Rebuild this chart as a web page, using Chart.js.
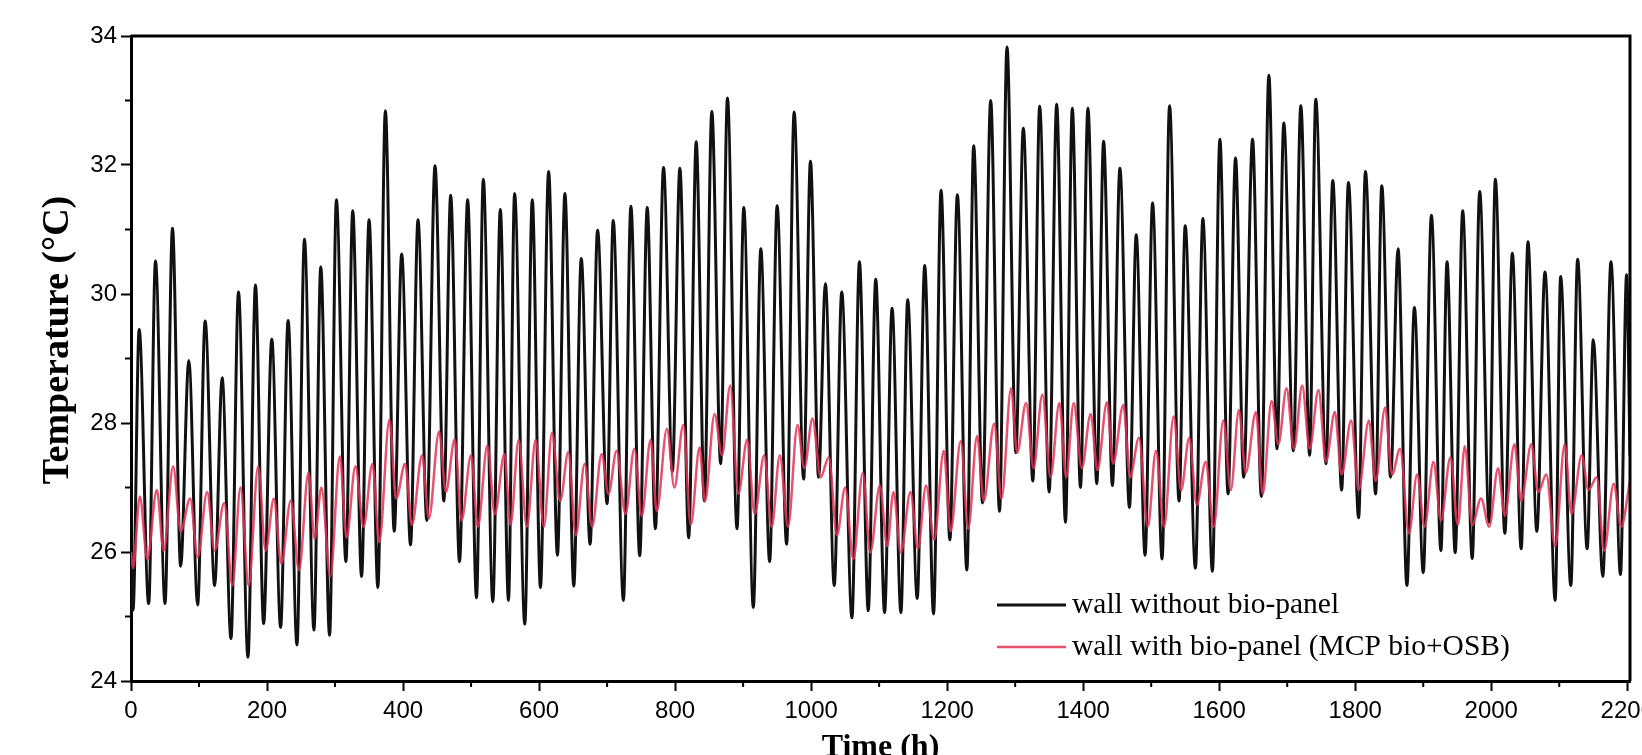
<!DOCTYPE html>
<html lang="en">
<head>
<meta charset="UTF-8" />
<title>Wall temperature with and without bio-panel</title>
<script src="https://cdn.jsdelivr.net/npm/chart.js"></script>
<style>
  html, body { margin: 0; padding: 0; background: #fff; overflow: hidden; }
  #wrap { width: 1642px; height: 755px; overflow: hidden; }
</style>
</head>
<body>
<div id="wrap"><canvas id="tempChart" width="1642" height="775"></canvas></div>
<script>
// turning points (hour, temperature)
const blackHours = [0,3,12,26,36,50,61,73,85,98,109,123,134,147,158,172,183,195,207,220,
  231,244,255,269,279,292,302,316,326,339,350,363,374,387,398,411,422,435,447,460,
  470,483,495,508,518,532,543,555,564,579,590,602,614,627,638,651,662,675,686,700,
  709,724,735,748,759,771,783,796,807,820,831,843,854,867,877,891,901,915,926,939,
  950,964,975,989,999,1011,1021,1034,1045,1060,1071,1084,1095,1108,1119,1132,1142,1156,1167,1180,
  1191,1204,1215,1229,1239,1252,1264,1277,1288,1301,1312,1326,1336,1350,1361,1374,1384,1396,1407,1420,
  1430,1443,1454,1468,1478,1491,1502,1516,1527,1541,1550,1565,1576,1590,1601,1613,1624,1636,1649,1662,
  1673,1685,1695,1709,1720,1733,1742,1757,1767,1780,1790,1805,1815,1830,1839,1852,1863,1876,1887,1900,
  1912,1926,1935,1947,1958,1972,1983,1997,2006,2020,2031,2044,2054,2067,2079,2094,2102,2117,2127,2141,
  2150,2164,2176,2190,2199,2204];
const blackTemp = [26.0,25.1,29.45,25.2,30.51,25.2,31.02,25.78,28.97,25.18,
  29.58,25.48,28.7,24.66,30.03,24.37,30.14,24.89,29.3,24.83,
  29.59,24.56,30.85,24.79,30.42,24.71,31.46,25.85,31.29,25.62,
  31.15,25.45,32.84,26.32,30.62,26.11,31.15,26.49,31.99,26.79,
  31.53,25.85,31.46,25.29,31.78,25.23,31.31,25.25,31.56,24.88,
  31.46,25.45,31.9,25.95,31.56,25.47,30.55,26.12,30.99,26.75,
  31.14,25.25,31.36,25.94,31.34,26.36,31.96,27.25,31.95,26.22,
  32.36,26.79,32.83,27.37,33.04,26.36,31.34,25.14,30.7,25.85,
  31.37,26.12,32.82,27.13,32.06,27.16,30.16,25.48,30.03,24.98,
  30.5,25.09,30.23,25.06,29.78,25.06,29.91,25.28,30.44,25.04,
  31.61,26.19,31.54,25.72,32.3,26.76,33.0,26.63,33.83,27.54,
  32.57,27.1,32.91,26.93,32.94,26.46,32.88,27.0,32.88,27.06,
  32.37,27.03,31.95,26.69,30.92,25.95,31.41,25.89,32.92,26.79,
  31.06,25.75,31.17,25.7,32.4,26.9,32.11,27.16,32.4,26.86,
  33.39,27.6,32.65,27.57,32.92,27.5,33.02,27.37,31.76,26.96,
  31.73,26.53,31.9,26.9,31.68,27.16,30.7,25.48,29.79,25.68,
  31.22,26.02,30.5,25.99,31.29,25.9,31.59,26.46,31.78,26.29,
  30.63,26.05,30.81,26.32,30.34,25.25,30.27,25.48,30.54,26.05,
  29.29,25.62,30.5,25.65,30.3,27.5];

const redHours = [0,3,13,24,38,48,62,73,87,98,112,123,137,149,161,173,187,198,210,221,
  235,247,261,270,280,293,307,317,330,342,355,365,380,390,403,413,428,438,453,463,
  476,486,500,510,524,535,549,558,570,582,595,607,619,631,643,654,667,678,692,702,
  714,727,740,751,764,773,788,799,812,823,836,844,858,869,881,893,906,917,931,942,
  954,966,980,990,1002,1014,1026,1038,1050,1062,1076,1087,1101,1112,1121,1132,1146,1157,1169,1181,
  1195,1205,1220,1231,1244,1254,1269,1280,1294,1303,1316,1327,1340,1352,1365,1375,1386,1398,1411,1421,
  1435,1444,1459,1469,1482,1495,1507,1519,1533,1544,1556,1567,1580,1592,1606,1617,1629,1639,1654,1664,
  1677,1687,1699,1710,1722,1733,1746,1757,1770,1780,1794,1805,1820,1830,1844,1854,1866,1879,1891,1902,
  1915,1926,1940,1951,1961,1972,1985,1997,2010,2020,2034,2044,2059,2069,2081,2094,2108,2118,2133,2143,
  2155,2166,2180,2191,2204];
const redTemp = [26.0,25.75,26.86,25.89,26.96,26.02,27.33,26.32,26.83,25.92,
  26.93,26.02,26.76,25.48,27.0,25.48,27.33,26.02,26.83,25.82,
  26.8,25.72,27.23,26.2,27.0,25.62,27.48,26.22,27.33,26.39,
  27.37,26.15,28.05,26.83,27.37,26.42,27.5,26.52,27.87,26.93,
  27.75,26.49,27.5,26.39,27.65,26.59,27.52,26.42,27.74,26.39,
  27.74,26.39,27.85,26.79,27.55,26.26,27.37,26.39,27.52,26.9,
  27.57,26.59,27.6,26.56,27.74,26.63,27.91,27.0,27.97,26.42,
  27.62,26.79,28.14,27.5,28.58,26.9,27.74,26.59,27.5,26.39,
  27.5,26.39,27.97,27.3,28.07,27.16,27.47,26.26,27.0,25.89,
  27.23,25.99,27.03,26.09,26.93,25.99,26.93,26.05,27.03,26.19,
  27.57,26.32,27.72,26.36,27.8,26.79,27.99,26.83,28.54,27.54,
  28.31,27.3,28.44,27.16,28.31,27.16,28.31,27.3,28.14,27.27,
  28.32,27.37,28.28,27.16,27.77,26.39,27.57,26.39,28.1,26.96,
  27.77,26.73,27.4,26.39,28.04,26.96,28.2,27.23,28.17,26.9,
  28.34,27.67,28.54,27.6,28.58,27.6,28.51,27.4,28.17,27.2,
  28.04,26.96,28.04,27.1,28.24,27.2,27.6,26.29,27.2,26.39,
  27.4,26.49,27.47,26.42,27.64,26.42,26.83,26.39,27.3,26.56,
  27.67,26.79,27.67,26.93,27.2,26.09,27.67,26.59,27.5,26.96,
  27.16,26.02,27.06,26.39,27.1];

const seriesLabels = ['wall without bio-panel', 'wall with bio-panel (MCP bio+OSB)'];
const xTicks = [0, 200, 400, 600, 800, 1000, 1200, 1400, 1600, 1800, 2000, 2200];
const xMinorTicks = [100, 300, 500, 700, 900, 1100, 1300, 1500, 1700, 1900, 2100];
const yTicks = [24, 26, 28, 30, 32, 34];
const yMinorTicks = [25, 27, 29, 31, 33];
const yTitle = 'Temperature (°C)';

const blackColor = '#111111';
const redColor = 'rgba(226, 52, 86, 0.85)';

// box frame, minor ticks, y title and the in-plot legend
const frameAndLegend = {
  id: 'frameAndLegend',
  afterDraw(chart) {
    const { ctx, chartArea: a, scales: { x, y } } = chart;
    ctx.save();
    ctx.strokeStyle = '#000';
    ctx.lineWidth = 3;
    ctx.beginPath();
    ctx.moveTo(a.left, a.top);
    ctx.lineTo(a.right, a.top);
    ctx.lineTo(a.right, a.bottom);
    ctx.stroke();

    ctx.lineWidth = 2;
    ctx.beginPath();
    xMinorTicks.forEach(v => {
      const px = x.getPixelForValue(v);
      ctx.moveTo(px, a.bottom);
      ctx.lineTo(px, a.bottom + 6);
    });
    yMinorTicks.forEach(v => {
      const py = y.getPixelForValue(v);
      ctx.moveTo(a.left, py);
      ctx.lineTo(a.left - 6, py);
    });
    ctx.stroke();

    // y title, a little above the plot centre as in the original
    ctx.save();
    ctx.translate(58, 340);
    ctx.rotate(-Math.PI / 2);
    ctx.font = 'bold 38px "Liberation Serif"';
    ctx.textAlign = 'center';
    ctx.textBaseline = 'middle';
    ctx.fillStyle = '#000';
    ctx.fillText(yTitle, 0, 0);
    ctx.restore();

    const lx = 997, ly = 605, gap = 42;
    ctx.font = '29.5px "Liberation Serif"';
    ctx.textBaseline = 'middle';
    ctx.fillStyle = '#000';
    [blackColor, redColor].forEach((c, i) => {
      ctx.strokeStyle = c;
      ctx.lineWidth = i === 0 ? 2.8 : 2.6;
      ctx.beginPath();
      ctx.moveTo(lx, ly + i * gap);
      ctx.lineTo(lx + 69, ly + i * gap);
      ctx.stroke();
      ctx.fillText(seriesLabels[i], lx + 75, ly + i * gap);
    });
    ctx.restore();
  }
};

new Chart(document.getElementById('tempChart'), {
  type: 'line',
  data: {
    datasets: [
      {
        label: seriesLabels[0],
        data: blackHours.map((h, i) => ({ x: h, y: blackTemp[i] })),
        borderColor: blackColor,
        borderWidth: 3,
        order: 2
      },
      {
        label: seriesLabels[1],
        data: redHours.map((h, i) => ({ x: h, y: redTemp[i] })),
        borderColor: redColor,
        borderWidth: 2.5,
        order: 1
      }
    ]
  },
  options: {
    responsive: false,
    animation: false,
    elements: {
      point: { radius: 0 },
      line: { cubicInterpolationMode: 'monotone', fill: false }
    },
    layout: { padding: { top: 36, right: 12, left: 0, bottom: 0 } },
    plugins: { legend: { display: false }, tooltip: { enabled: false } },
    scales: {
      x: {
        type: 'linear',
        min: 0,
        max: 2204,
        afterBuildTicks: s => { s.ticks = xTicks.map(v => ({ value: v })); },
        afterFit: s => { s.height = 94; s.paddingLeft = 0; s.paddingRight = 0; },
        ticks: {
          callback: v => String(v),
          font: { family: 'Liberation Sans', size: 24 },
          color: '#000',
          padding: 6,
          maxRotation: 0,
          autoSkip: false
        },
        grid: { drawOnChartArea: false, tickLength: 10, tickWidth: 2, tickColor: '#000' },
        border: { color: '#000', width: 3 },
        title: {
          display: true,
          text: 'Time (h)',
          font: { family: 'Liberation Serif', size: 32, weight: 'bold' },
          color: '#000',
          padding: { top: 0, bottom: 8 }
        }
      },
      y: {
        min: 24,
        max: 34,
        afterBuildTicks: s => { s.ticks = yTicks.map(v => ({ value: v })); },
        afterFit: s => { s.width = 131; },
        ticks: {
          callback: v => String(v),
          font: { family: 'Liberation Sans', size: 24 },
          color: '#000',
          padding: 4
        },
        grid: { drawOnChartArea: false, tickLength: 10, tickWidth: 2, tickColor: '#000' },
        border: { color: '#000', width: 3 },
        title: { display: false }
      }
    }
  },
  plugins: [frameAndLegend]
});
</script>
</body>
</html>
